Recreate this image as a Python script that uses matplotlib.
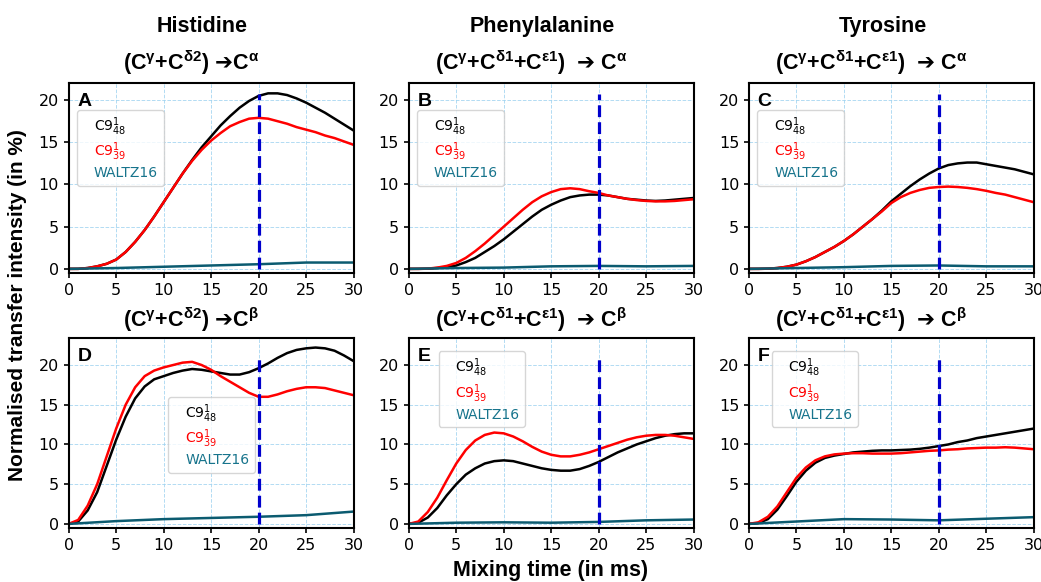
import matplotlib
matplotlib.use("Agg")
import matplotlib.pyplot as plt
import numpy as np

plt.rcParams['mathtext.fontset'] = 'custom'
plt.rcParams['mathtext.rm'] = 'DejaVu Sans'
plt.rcParams['mathtext.it'] = 'DejaVu Sans:italic'
plt.rcParams['mathtext.bf'] = 'Liberation Sans:bold'

t = np.arange(0, 31)          # mixing time (ms), 1 ms steps
t_w = np.arange(0, 31, 5)     # WALTZ16 sampled every 5 ms

# panel A : His (Cg+Cd2) -> Ca
A_c948 = [0, 0.0, 0.1, 0.3, 0.6, 1.1, 2.0, 3.2, 4.6, 6.2, 7.9, 9.6, 11.3, 12.9, 14.4, 15.7,
          17.0, 18.1, 19.1, 19.9, 20.5, 20.8, 20.8, 20.6, 20.2, 19.7, 19.1, 18.5, 17.8, 17.1, 16.4]
A_c939 = [0, 0.0, 0.1, 0.3, 0.6, 1.1, 2.0, 3.2, 4.6, 6.2, 7.9, 9.6, 11.3, 12.8, 14.1, 15.2,
          16.1, 16.9, 17.4, 17.8, 17.9, 17.8, 17.5, 17.2, 16.8, 16.5, 16.2, 15.8, 15.5, 15.1, 14.7]
A_waltz = [0, 0.1, 0.25, 0.4, 0.55, 0.75, 0.75]

# panel B : Phe (Cg+Cd1+Ce1) -> Ca
B_c948 = [0, 0, 0.02, 0.1, 0.2, 0.4, 0.8, 1.3, 2.0, 2.7, 3.5, 4.4, 5.3, 6.2, 7.0, 7.6,
          8.1, 8.5, 8.7, 8.8, 8.8, 8.7, 8.5, 8.3, 8.2, 8.1, 8.05, 8.1, 8.2, 8.3, 8.4]
B_c939 = [0, 0, 0.03, 0.15, 0.35, 0.7, 1.3, 2.1, 3.0, 4.0, 5.0, 6.0, 7.0, 7.9, 8.6, 9.1,
          9.45, 9.55, 9.45, 9.2, 9.0, 8.7, 8.5, 8.3, 8.15, 8.05, 8.0, 8.0, 8.05, 8.15, 8.25]
B_waltz = [0, 0.1, 0.15, 0.3, 0.35, 0.3, 0.35]

# panel C : Tyr (Cg+Cd1+Ce1) -> Ca
C_c948 = [0, 0, 0.02, 0.1, 0.25, 0.5, 0.9, 1.4, 2.0, 2.6, 3.3, 4.1, 5.0, 5.9, 6.9, 8.0,
          8.9, 9.8, 10.6, 11.3, 11.9, 12.3, 12.5, 12.6, 12.6, 12.4, 12.2, 12.0, 11.8, 11.5, 11.2]
C_c939 = [0, 0, 0.02, 0.1, 0.25, 0.5, 0.9, 1.4, 2.0, 2.6, 3.3, 4.1, 5.0, 5.9, 6.8, 7.8,
          8.5, 9.0, 9.35, 9.6, 9.7, 9.75, 9.7, 9.6, 9.45, 9.25, 9.0, 8.8, 8.5, 8.2, 7.9]
C_waltz = [0, 0.1, 0.2, 0.35, 0.4, 0.3, 0.3]

# panel D : His (Cg+Cd2) -> Cb
D_c948 = [0, 0.3, 1.7, 4.0, 7.3, 10.6, 13.5, 15.8, 17.3, 18.2, 18.6, 19.0, 19.3, 19.5, 19.4, 19.2,
          19.0, 18.8, 18.8, 19.1, 19.6, 20.2, 20.9, 21.5, 21.9, 22.1, 22.2, 22.1, 21.8, 21.2, 20.5]
D_c939 = [0, 0.5, 2.3, 5.0, 8.5, 12.0, 15.0, 17.2, 18.6, 19.3, 19.7, 20.0, 20.3, 20.4, 20.0, 19.4,
          18.6, 17.9, 17.2, 16.5, 16.0, 16.0, 16.3, 16.7, 17.0, 17.2, 17.2, 17.1, 16.8, 16.5, 16.2]
D_waltz = [0, 0.35, 0.6, 0.75, 0.9, 1.1, 1.55]

# panel E : Phe (Cg+Cd1+Ce1) -> Cb
E_c948 = [0, 0.15, 0.8, 2.0, 3.6, 5.0, 6.2, 7.0, 7.6, 7.9, 8.0, 7.9, 7.6, 7.3, 7.0, 6.8,
          6.7, 6.7, 6.9, 7.3, 7.8, 8.4, 9.0, 9.5, 10.0, 10.4, 10.8, 11.1, 11.3, 11.4, 11.4]
E_c939 = [0, 0.3, 1.5, 3.3, 5.5, 7.6, 9.3, 10.5, 11.2, 11.5, 11.4, 11.0, 10.4, 9.7, 9.1, 8.7,
          8.5, 8.5, 8.7, 9.0, 9.4, 9.8, 10.2, 10.6, 10.9, 11.1, 11.2, 11.2, 11.1, 10.9, 10.7]
E_waltz = [0, 0.15, 0.2, 0.15, 0.25, 0.45, 0.55]

# panel F : Tyr (Cg+Cd1+Ce1) -> Cb
F_c948 = [0, 0.1, 0.6, 1.8, 3.5, 5.3, 6.7, 7.7, 8.3, 8.6, 8.8, 9.0, 9.1, 9.2, 9.25, 9.25,
          9.3, 9.35, 9.45, 9.6, 9.8, 10.0, 10.3, 10.5, 10.8, 11.0, 11.2, 11.4, 11.6, 11.8, 12.0]
F_c939 = [0, 0.2, 0.9, 2.2, 4.0, 5.8, 7.1, 8.0, 8.5, 8.75, 8.85, 8.9, 8.9, 8.85, 8.85, 8.85,
          8.9, 9.0, 9.1, 9.2, 9.25, 9.35, 9.4, 9.5, 9.55, 9.6, 9.6, 9.65, 9.6, 9.5, 9.4]
F_waltz = [0, 0.3, 0.6, 0.55, 0.45, 0.65, 0.85]

c948 = [A_c948, B_c948, C_c948, D_c948, E_c948, F_c948]
c939 = [A_c939, B_c939, C_c939, D_c939, E_c939, F_c939]
waltz = [A_waltz, B_waltz, C_waltz, D_waltz, E_waltz, F_waltz]
letters = ["A", "B", "C", "D", "E", "F"]
residues = ["Histidine", "Phenylalanine", "Tyrosine"]
sub_his = r"(C$^{\mathbf{γ}}$+C$^{\mathbf{δ2}}$) $\mathrm{➔}$C$^{\mathbf{%s}}$"
sub_aro = r"(C$^{\mathbf{γ}}$+C$^{\mathbf{δ1}}$+C$^{\mathbf{ε1}}$)  $\mathrm{➔}$ C$^{\mathbf{%s}}$"
subtitles = [sub_his % "α", sub_aro % "α", sub_aro % "α",
             sub_his % "β", sub_aro % "β", sub_aro % "β"]
legend_pos = [(0.03, 0.86), (0.03, 0.86), (0.03, 0.86),
              (0.35, 0.69), (0.105, 0.93), (0.08, 0.93)]
mix_time = 20
teal = '#0b5b70'
labels = [r"C9$^1_{48}$", r"C9$^1_{39}$", "WALTZ16"]
label_cols = ['black', 'red', '#17748c']

fig, axes = plt.subplots(2, 3, figsize=(10.41, 5.82), dpi=100)
plt.subplots_adjust(left=0.066, right=0.993, top=0.857, bottom=0.093, wspace=0.194, hspace=0.342)

tfont = ['Liberation Sans', 'DejaVu Sans']
for i, ax in enumerate(axes.flat):
    ax.plot(t, c948[i], color='black', lw=1.8, label=labels[0])
    ax.plot(t, c939[i], color='red', lw=1.8, label=labels[1])
    ax.plot(t_w, waltz[i], color=teal, lw=1.8, label=labels[2])
    ax.vlines(mix_time, 0, 20.7, colors='#0000cc', linestyles='--', lw=2.3)
    ax.set_xlim(0, 30)
    ax.set_ylim(-0.5, 22 if i < 3 else 23.4)
    ax.set_xticks([0, 5, 10, 15, 20, 25, 30])
    ax.set_yticks([0, 5, 10, 15, 20])
    ax.tick_params(labelsize=11.5, width=1.2)
    ax.grid(True, color='#9fd3f0', ls='--', lw=0.7, alpha=0.8)
    for s in ax.spines.values():
        s.set_linewidth(1.5)
    ax.text(0.03, 0.95, letters[i], transform=ax.transAxes, fontsize=14,
            fontweight='bold', family=tfont, va='top', ha='left')
    ax.text(0.43, 1.11 if i < 3 else 1.095, subtitles[i], transform=ax.transAxes,
            fontsize=15.5, fontweight='bold', family=tfont, ha='center', va='center')
    leg = ax.legend(loc='upper left', bbox_to_anchor=legend_pos[i], borderaxespad=0,
                    fontsize=10, handlelength=0, handletextpad=0.8, labelspacing=0.2,
                    framealpha=0.8)
    for line in leg.get_lines():
        line.set_visible(False)
    for txt, col in zip(leg.get_texts(), label_cols):
        txt.set_color(col)

for j, name in enumerate(residues):
    axes[0, j].text(0.47, 1.30, name, transform=axes[0, j].transAxes, fontsize=15.5,
                    fontweight='bold', family=tfont, ha='center', va='center')

fig.text(0.017, 0.476, "Normalised transfer intensity (in %)", rotation=90, fontsize=15,
         fontweight='bold', family=tfont, ha='center', va='center')
fig.text(0.529, 0.019, "Mixing time (in ms)", fontsize=15.5, fontweight='bold',
         family=tfont, ha='center', va='center')

plt.savefig("out.png", dpi=100)
